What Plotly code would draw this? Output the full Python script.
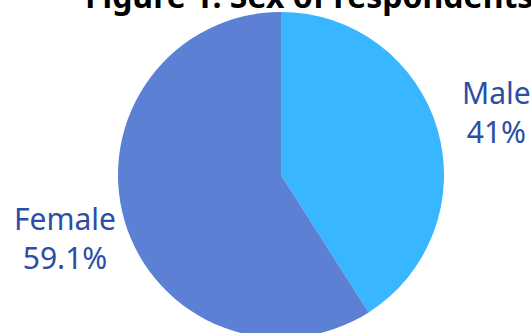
import math
import plotly.graph_objects as go

labels = ["Male", "Female"]
values = [41, 59.1]
text_labels = ["41%", "59.1%"]
colors = ["#38b6ff", "#5b80d4"]
title_text = "Figure 1: Sex of respondents"

W, H = 531, 338
ML, MR, MT, MB = 31, 0, 12, 0
PW, PH = W - ML - MR, H - MT - MB
R = min(PW, PH) / 2
LABEL_DIST = R + 62

fig = go.Figure(go.Pie(
    labels=labels,
    values=values,
    textinfo="none",
    sort=False,
    direction="clockwise",
    rotation=0,
    marker=dict(colors=colors, line=dict(width=0)),
    showlegend=False,
    hoverinfo="skip",
))

# outside labels placed along each slice's mid-angle
total = sum(values)
cum = 0
for lab, val, txt in zip(labels, values, text_labels):
    mid = (cum + val / 2) / total * 2 * math.pi
    cum += val
    dx = LABEL_DIST * math.sin(mid)
    dy = LABEL_DIST * math.cos(mid)
    fig.add_annotation(
        x=0.5 + dx / PW, y=0.5 + dy / PH,
        xref="paper", yref="paper",
        text=f"{lab}<br>{txt}",
        showarrow=False,
        xanchor="center", yanchor="middle",
        font=dict(family="Noto Sans", size=30, color="#2b4ea6"),
    )

# chart title (partly above the visible page edge, as in the reference)
fig.add_annotation(
    x=(308.5 - ML) / PW, y=1 + (MT + 4.5) / PH,
    xref="paper", yref="paper",
    text="<b>" + title_text + "</b>",
    showarrow=False,
    xanchor="center", yanchor="middle",
    font=dict(family="Noto Sans", size=32, color="black"),
)

fig.update_layout(
    width=W,
    height=H,
    margin=dict(l=ML, r=MR, t=MT, b=MB),
    paper_bgcolor="white",
    plot_bgcolor="white",
)

fig.write_html("out.html")
